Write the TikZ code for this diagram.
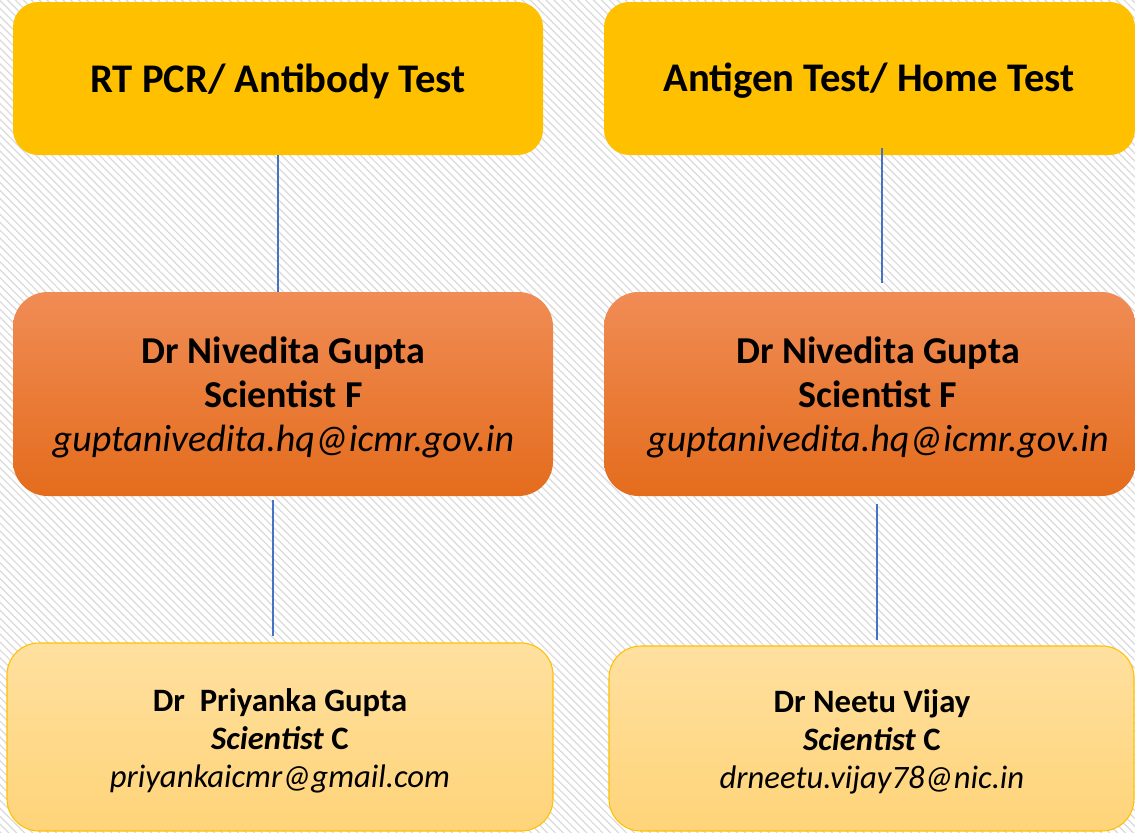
\documentclass[tikz,border=0pt]{standalone}
\usepackage{fontspec}
\setmainfont{Carlito}
\usetikzlibrary{patterns.meta}
\definecolor{gold}{HTML}{FFC000}
\definecolor{orgtop}{HTML}{F08C55}
\definecolor{orgbot}{HTML}{E46C1C}
\definecolor{lttop}{HTML}{FFE09F}
\definecolor{ltbot}{HTML}{FFD479}
\definecolor{conn}{HTML}{4472C4}
\definecolor{hatch}{HTML}{DADADA}
\tikzset{
  topbox/.style={rounded corners=19pt, fill=gold, draw=none, inner sep=0pt},
  midbox/.style={rounded corners=26pt, top color=orgtop, bottom color=orgbot, draw=none, inner sep=0pt},
  lowbox/.style={rounded corners=24pt, top color=lttop, bottom color=ltbot, draw=gold, line width=0.8pt, inner sep=0pt},
  ttl/.style={font=\fontsize{30.5}{34}\selectfont\bfseries, text=black},
  midtxt/.style={align=center, font=\fontsize{28.5}{33}\selectfont, text=black},
  lowtxt/.style={align=center, font=\fontsize{24.5}{28.5}\selectfont, text=black},
  link/.style={draw=conn, line width=0.8pt}
}
\begin{document}
\begin{tikzpicture}[x=0.75pt,y=-0.75pt]
\useasboundingbox (0,0) rectangle (1135,832);
\fill[white] (0,0) rectangle (1135,832);
\fill[pattern={Lines[angle=-45,distance=4.2pt,line width=0.9pt]}, pattern color=hatch] (0,0) rectangle (1135,832);
% top boxes
\node[topbox, minimum width=530*0.75pt, minimum height=153*0.75pt] (t1) at (278,78.5) {};
\node[topbox, minimum width=531*0.75pt, minimum height=153*0.75pt] (t2) at (869.5,78.5) {};
\node[ttl] (t1l) at (278,81) {RT PCR/ Antibody Test};
\node[ttl] (t2l) at (869,81) {Antigen Test/ Home Test};
% middle boxes
\node[midbox, minimum width=540*0.75pt, minimum height=204*0.75pt] (m1) at (283,394) {};
\node[midbox, minimum width=532*0.75pt, minimum height=204*0.75pt] (m2) at (870,394) {};
\node[midtxt] (m1l) at (283.5,397) {\textbf{Dr Nivedita Gupta}\\\textbf{Scientist F}\\\textit{guptanivedita.hq@icmr.gov.in}};
\node[midtxt] (m2l) at (878,397) {\textbf{Dr Nivedita Gupta}\\\textbf{Scientist F}\\\textit{guptanivedita.hq@icmr.gov.in}};
% lower boxes
\node[lowbox, minimum width=546*0.75pt, minimum height=188*0.75pt] (b1) at (280,737) {};
\node[lowbox, minimum width=525*0.75pt, minimum height=185*0.75pt] (b2) at (871.5,738.5) {};
\node[lowtxt] (b1l) at (280,741) {\textbf{Dr\ \ Priyanka Gupta}\\\textbf{\textit{Scientist} C}\\\textit{priyankaicmr@gmail.com}};
\node[lowtxt] (b2l) at (872,742) {\textbf{Dr Neetu Vijay}\\\textbf{\textit{Scientist} C}\\\textit{drneetu.vijay78@nic.in}};
% connectors
\coordinate (c1a) at (278,155); \coordinate (c1b) at (278,292);
\coordinate (c2a) at (882,148); \coordinate (c2b) at (882,283);
\coordinate (c3a) at (273,500); \coordinate (c3b) at (273,636);
\coordinate (c4a) at (877,504); \coordinate (c4b) at (877,640);
\draw[link] (t1.south -| c1a) -- (c1b);
\draw[link] (c2a) -- (c2b);
\draw[link] (c3a) -- (c3b);
\draw[link] (c4a) -- (c4b);
\end{tikzpicture}
\end{document}
